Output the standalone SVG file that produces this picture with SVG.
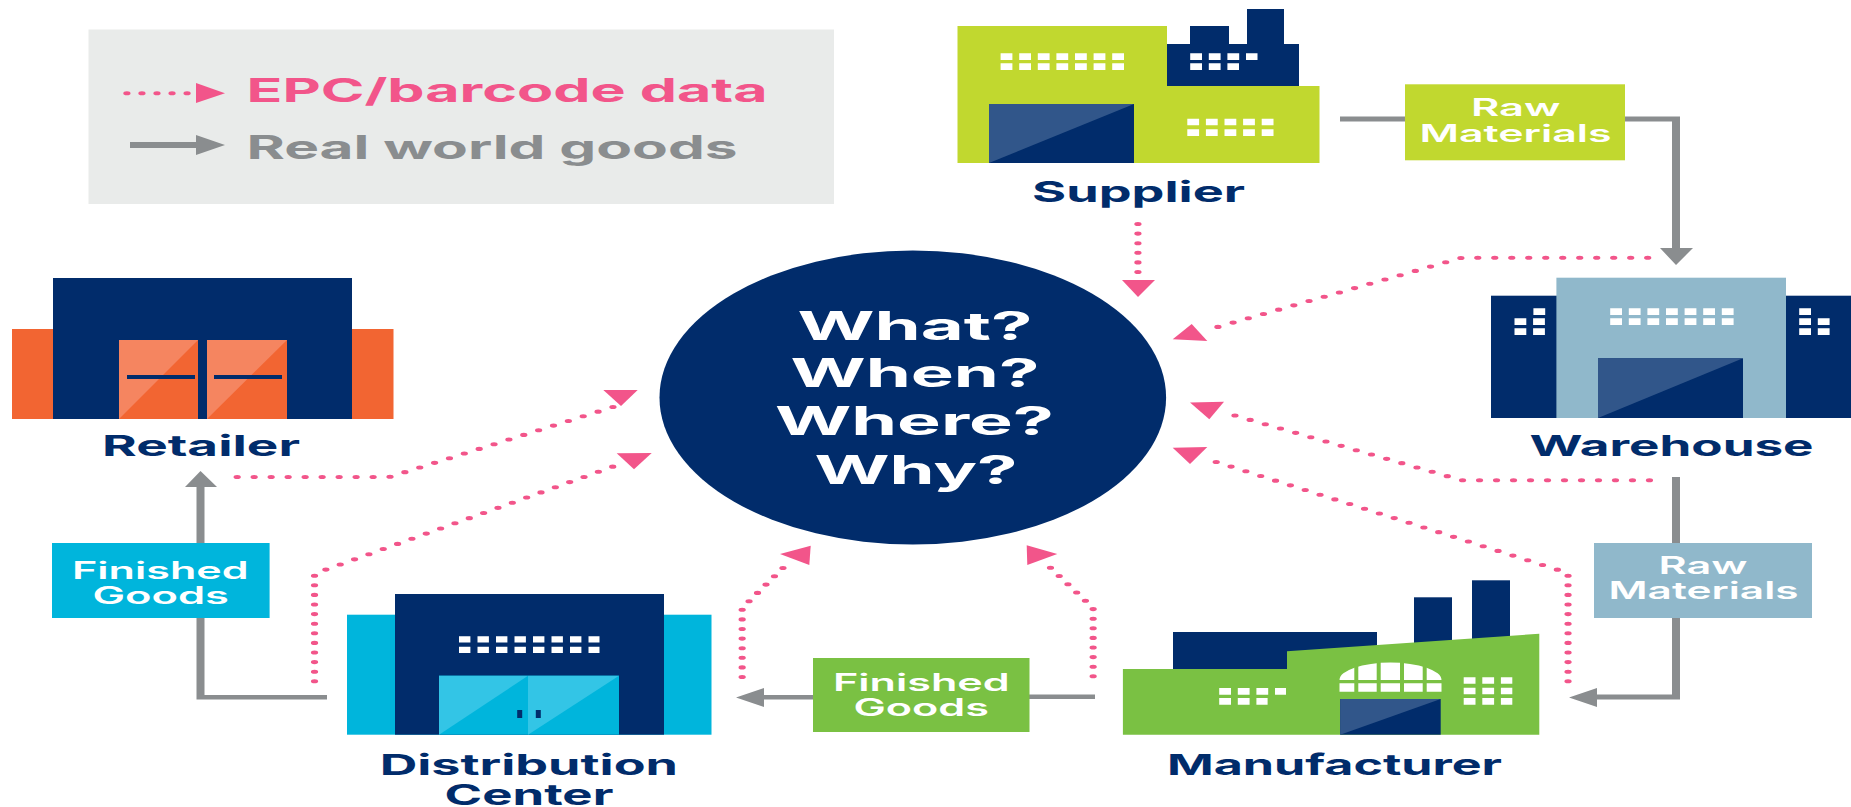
<svg xmlns="http://www.w3.org/2000/svg" width="1851" height="807" viewBox="0 0 1851 807">
<style>
text{font-family:Inter,"Open Sans","Liberation Sans",sans-serif;font-weight:700}
.navy{fill:#012c6b}.shade{fill:#31568a}
.label{fill:#012c6b;font-size:29px}
.box{fill:#fff;font-size:24px;font-weight:600}
.q{fill:#fff;font-size:39px}
.leg{font-size:33px;font-weight:700}
.win{stroke:#fff;fill:none}
.w18{stroke-width:6.7px;stroke-dasharray:11.8 6.8}
.lime{fill:#c1d82f}.orange{fill:#f26532}.sky{fill:#00b5dc}.steel{fill:#90b8cb}.green{fill:#7ac143}
.goods{fill:#8a8d8f}.pink{fill:#f2558a}
.dots{fill:none;stroke:#f2558a;stroke-width:4.1;stroke-linecap:round;stroke-linejoin:round;stroke-dasharray:0 9.6}
</style>
<rect width="1851" height="807" fill="#fff"/>
<g id="legend">
<rect x="88.5" y="29.5" width="745.5" height="174.5" fill="#e9ebea"/>
<g transform="scale(1.77 1)"><path class="dots" style="stroke-dasharray:0 8.5" d="M71.7 93.3H106"/></g>
<polygon class="pink" points="196,83 225,93.3 196,103"/>
<text class="leg pink" x="246.500" y="102" textLength="521" lengthAdjust="spacingAndGlyphs">EPC/barcode data</text>
<polygon class="goods" points="130,142 196,142 196,135 225,145 196,155 196,148 130,148"/>
<text class="leg goods" x="246.500" y="159" textLength="491" lengthAdjust="spacingAndGlyphs">Real world goods</text>
</g>
<g id="connectors">
<g transform="scale(1.77 1)">
<path class="dots" d="M642.9 224V273"/>
<path class="dots" d="M930.9 257.7H825.9L681.9 330"/>
<path class="dots" d="M931.9 480.3H825.9L689.3 411.3"/>
<path class="dots" d="M885.9 681.3V573L686 461.3"/>
<path class="dots" d="M617.6 676.3V608L592.6 566.3"/>
<path class="dots" d="M419.3 677V608L443.3 566.3"/>
<path class="dots" d="M177.7 681.3V573.7L346.7 466.3"/>
<path class="dots" d="M134 477H220L351.7 404"/>
</g>
<polygon class="pink" points="1122,280 1155,280 1138,297"/>
<polygon class="pink" points="1172.700,339.300 1207.300,341 1191.700,324"/>
<polygon class="pink" points="1190,402.500 1224,401.700 1209.300,419.300"/>
<polygon class="pink" points="1172.700,447.700 1207.300,447 1190,464"/>
<polygon class="pink" points="1026.700,545.300 1057.300,554 1027.300,565"/>
<polygon class="pink" points="810.700,545.700 780,554 809.300,565"/>
<polygon class="pink" points="616.700,453.300 651.700,453 634,469.300"/>
<polygon class="pink" points="603.300,390 637.700,390 621,406"/>
<polygon class="goods" points="1340,116.500 1405,116.500 1405,121.500 1340,121.500"/>
<polygon class="goods" points="1625,116.500 1680,116.500 1680,248 1693,248 1676,265 1660,248 1672,248 1672,121.500 1625,121.500"/>
<polygon class="goods" points="1672,477 1680,477 1680,699.500 1597,699.500 1597,707 1569,697.500 1597,688 1597,694.500 1672,694.500"/>
<polygon class="goods" points="1095,694.500 1029,694.500 1029,699 1095,699"/>
<polygon class="goods" points="813,695 764,695 764,688 736,697.500 764,707 764,699.500 813,699.500"/>
<polygon class="goods" points="327,695 204.500,695 204.500,487 217,487 200.500,471 185,487 196.500,487 196.500,699.500 327,699.500"/>
</g>
<g id="center">
<ellipse class="navy" cx="912.800" cy="397.500" rx="253.300" ry="147"/>
<text class="q" x="797.500" y="339.500" textLength="235" lengthAdjust="spacingAndGlyphs">What?</text>
<text class="q" x="790.500" y="387" textLength="249" lengthAdjust="spacingAndGlyphs">When?</text>
<text class="q" x="775" y="434.500" textLength="279" lengthAdjust="spacingAndGlyphs">Where?</text>
<text class="q" x="814.500" y="484" textLength="203" lengthAdjust="spacingAndGlyphs">Why?</text>
</g>
<g id="supplier">
<polygon class="lime" points="957.500,26 1167,26 1167,86 1319.500,86 1319.500,163 957.500,163"/>
<rect class="navy" x="1167" y="44" width="132" height="42"/>
<rect class="navy" x="1190" y="26" width="39" height="20"/>
<rect class="navy" x="1247" y="9" width="37" height="37"/>
<rect class="navy" x="989" y="104" width="145" height="59"/>
<polygon class="shade" points="989,104 1134,104 989,163"/>
<path class="win w18" d="M1000.600 56.700H1124.600M1000.600 66.700H1124.600M1190.200 56.700H1257.500M1190.200 66.700H1239M1187.300 122H1273.500M1187.300 132.700H1273.500"/>
<text class="label" x="1032" y="202" textLength="213" lengthAdjust="spacingAndGlyphs">Supplier</text>
</g>
<g id="label-raw-1">
<rect class="lime" x="1405" y="84.300" width="220" height="76"/>
<text class="box" x="1471" y="115.500" textLength="89.500" lengthAdjust="spacingAndGlyphs">Raw</text>
<text class="box" x="1419.500" y="141.500" textLength="192" lengthAdjust="spacingAndGlyphs">Materials</text>
</g>
<g id="warehouse">
<rect class="navy" x="1491" y="295.700" width="360" height="122.300"/>
<rect class="steel" x="1556.400" y="277.700" width="229.600" height="140.300"/>
<rect class="navy" x="1598" y="358.300" width="145" height="59.700"/>
<polygon class="shade" points="1598,358.300 1743,358.300 1598,418"/>
<path class="win w18" d="M1610.200 311.700H1733.600M1610.200 321.700H1733.600M1533.400 311.700H1545.200M1514.500 321.700H1545.200M1514.500 331.700H1545.200M1799.200 311.700H1811M1799.200 321.700H1829.800M1799.200 331.700H1829.800"/>
<text class="label" x="1529.600" y="456.300" textLength="284" lengthAdjust="spacingAndGlyphs">Warehouse</text>
</g>
<g id="label-raw-2">
<rect class="steel" x="1594" y="543" width="218" height="75"/>
<text class="box" x="1658.500" y="573.500" textLength="89" lengthAdjust="spacingAndGlyphs">Raw</text>
<text class="box" x="1608.500" y="599.200" textLength="190" lengthAdjust="spacingAndGlyphs">Materials</text>
</g>
<g id="manufacturer">
<rect class="navy" x="1173" y="632" width="204" height="40"/>
<rect class="navy" x="1414" y="597.300" width="38" height="50"/>
<rect class="navy" x="1472" y="580.300" width="38" height="62"/>
<polygon class="green" points="1122.900,669 1287,669 1287,651.300 1539.300,633.700 1539.300,734.700 1122.900,734.700"/>
<rect class="navy" x="1340.200" y="699" width="100.500" height="35.700"/>
<polygon class="shade" points="1340.200,699 1440.700,699 1340.200,734.700"/>
<path fill="#fff" d="M1339.500 680A51 17.400 0 0 1 1441.500 680ZM1339.500 683.300H1441.500V691.700H1339.500Z"/>
<path fill="none" stroke="#7ac143" stroke-width="4" d="M1356.300 660V693M1378.700 660V693M1402 660V693M1424.700 660V693"/>
<path class="win w18" d="M1219.200 691.300H1286M1219.200 701.300H1267.600M1463.700 680.500H1512.300M1463.700 691H1512.300M1463.700 701.300H1512.300"/>
<text class="label" x="1167" y="774.700" textLength="335" lengthAdjust="spacingAndGlyphs">Manufacturer</text>
</g>
<g id="label-finished-green">
<rect class="green" x="813" y="658" width="216.500" height="74"/>
<text class="box" x="833" y="690.500" textLength="176.700" lengthAdjust="spacingAndGlyphs">Finished</text>
<text class="box" x="853.500" y="716.200" textLength="135.500" lengthAdjust="spacingAndGlyphs">Goods</text>
</g>
<g id="distribution-center">
<rect class="sky" x="347" y="614.700" width="364.500" height="120"/>
<rect class="navy" x="395" y="594" width="269" height="140.700"/>
<rect class="sky" x="439" y="675.700" width="180" height="59"/>
<polygon fill="#33c5e6" points="439,675.700 528,675.700 439,734.700"/>
<polygon fill="#33c5e6" points="528,675.700 619,675.700 528,734.700"/>
<path fill="none" stroke="#012c6b" stroke-width="5" d="M519.700 710V718M538.300 710V718"/>
<path class="win" stroke-width="6.200" stroke-dasharray="11.400 7.100" d="M459 639.300H599.500M459 649.800H599.500"/>
<text class="label" x="379.700" y="774.700" textLength="298.300" lengthAdjust="spacingAndGlyphs">Distribution</text>
<text class="label" x="444.600" y="804.700" textLength="168.800" lengthAdjust="spacingAndGlyphs">Center</text>
</g>
<g id="label-finished-blue">
<rect class="sky" x="52" y="543" width="217.600" height="75"/>
<text class="box" x="72" y="578.500" textLength="176.600" lengthAdjust="spacingAndGlyphs">Finished</text>
<text class="box" x="92.400" y="603.500" textLength="136.600" lengthAdjust="spacingAndGlyphs">Goods</text>
</g>
<g id="retailer">
<rect class="orange" x="12" y="329" width="381.500" height="90"/>
<rect class="navy" x="53" y="278" width="299" height="141"/>
<rect class="orange" x="119" y="340" width="79" height="79"/>
<rect class="orange" x="207" y="340" width="80" height="79"/>
<polygon fill="#f58560" points="119,340 198,340 119,419"/>
<polygon fill="#f58560" points="207,340 287,340 207,419"/>
<rect class="navy" x="127" y="375" width="68" height="4"/>
<rect class="navy" x="214" y="375" width="68" height="4"/>
<text class="label" x="102" y="456" textLength="198" lengthAdjust="spacingAndGlyphs">Retailer</text>
</g>
</svg>
